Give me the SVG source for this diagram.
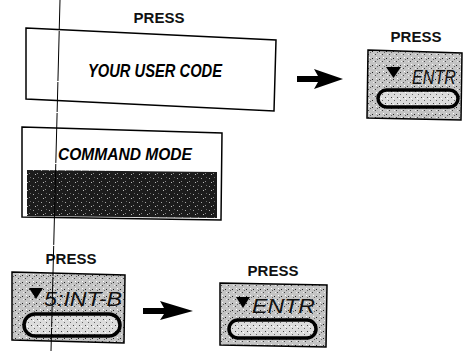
<svg xmlns="http://www.w3.org/2000/svg" width="468" height="351" viewBox="0 0 468 351">
<style>
.press{font-family:"Liberation Sans",Arial,sans-serif;font-weight:bold;font-size:15px;fill:#111;text-anchor:middle}
.box{fill:#fff;stroke:#000;stroke-width:1.5}
.big{font-family:"Liberation Sans",Arial,sans-serif;font-weight:bold;font-style:italic;fill:#000}
.key{fill:url(#speck);stroke:#000;stroke-width:1.5}
.oval{fill:url(#speckL);stroke:#000;stroke-width:3.5}
.klabel{font-family:"Liberation Sans",Arial,sans-serif;font-style:italic;font-size:20px;fill:#111}
.tri{fill:#000}
.arrow{fill:#000}
.scan{stroke:#000;stroke-width:1;stroke-dasharray:30 1 50 1}
</style>
<defs>
<pattern id="speck" width="7" height="7" patternUnits="userSpaceOnUse">
<rect width="7" height="7" fill="#c4c4c4"/>
<rect x="1" y="2" width="1" height="1" fill="#222"/>
<rect x="4" y="5" width="1" height="1" fill="#444"/>
<rect x="5" y="1" width="1" height="1" fill="#fff"/>
<rect x="2" y="5" width="1" height="1" fill="#eee"/>
<rect x="6" y="3" width="1" height="1" fill="#666"/>
</pattern>
<pattern id="speckL" width="6" height="6" patternUnits="userSpaceOnUse">
<rect width="6" height="6" fill="#dcdcdc"/>
<rect x="1" y="1" width="1" height="1" fill="#444"/>
<rect x="4" y="4" width="1" height="1" fill="#666"/>
<rect x="3" y="2" width="1" height="1" fill="#fff"/>
</pattern>
<pattern id="dark" width="8" height="8" patternUnits="userSpaceOnUse">
<rect width="8" height="8" fill="#1c1c1c"/>
<rect x="1" y="2" width="1" height="1" fill="#aaa"/>
<rect x="5" y="5" width="1" height="1" fill="#888"/>
<rect x="6" y="1" width="1" height="1" fill="#666"/>
<rect x="3" y="6" width="1" height="1" fill="#bbb"/>
</pattern>
</defs>
<rect width="468" height="351" fill="#fff"/>

<g id="user-code">
<text class="press" x="159" y="23">PRESS</text>
<polygon class="box" points="26,28 276,40 274,111 26,99"/>
<text class="big" x="88" y="77" font-size="19" textLength="134" lengthAdjust="spacingAndGlyphs">YOUR USER CODE</text>
</g>

<g id="key-entr-top">
<text class="press" x="416" y="42">PRESS</text>
<polygon class="key" points="368,50 462,53 461,120 367,118"/>
<polygon class="tri" points="386,67 401,67 393.5,78"/>
<text class="klabel" x="412" y="84" textLength="44" lengthAdjust="spacingAndGlyphs">ENTR</text>
<rect class="oval" x="378" y="90" width="80" height="17" rx="8.5"/>
</g>

<g id="command-mode">
<polygon class="box" points="22,127 222,133 221,220 22,217"/>
<text class="big" x="58" y="160" font-size="17" textLength="134" lengthAdjust="spacingAndGlyphs">COMMAND MODE</text>
<polygon points="27,170 217,172 217,218 27,216" fill="url(#dark)"/>
</g>

<g id="key-intb">
<text class="press" x="71" y="264">PRESS</text>
<polygon class="key" points="12,272 125,275 124,343 12,340"/>
<polygon class="tri" points="29,288 43,288 36,299"/>
<text class="klabel" x="44" y="306" textLength="78" lengthAdjust="spacingAndGlyphs">5:INT-B</text>
<rect class="oval" x="24" y="314" width="96" height="22" rx="11"/>
</g>

<g id="key-entr-bottom">
<text class="press" x="273" y="276">PRESS</text>
<polygon class="key" points="220,283 327,285 326,347 220,345"/>
<polygon class="tri" points="236,297 250,297 243,308"/>
<text class="klabel" x="252" y="313" textLength="63" lengthAdjust="spacingAndGlyphs">ENTR</text>
<rect class="oval" x="229" y="320" width="87" height="18" rx="9"/>
</g>

<g id="connectors">
<polygon class="arrow" points="297,76 318,76 314,69 343,79 314,89 318,82 297,82"/>
<polygon class="arrow" points="143,308 164,308 160,301 193,311 160,320 164,314 143,314"/>
</g>

<g id="scan-line">
<line class="scan" x1="60" y1="0" x2="51" y2="351"/>
</g>
</svg>
